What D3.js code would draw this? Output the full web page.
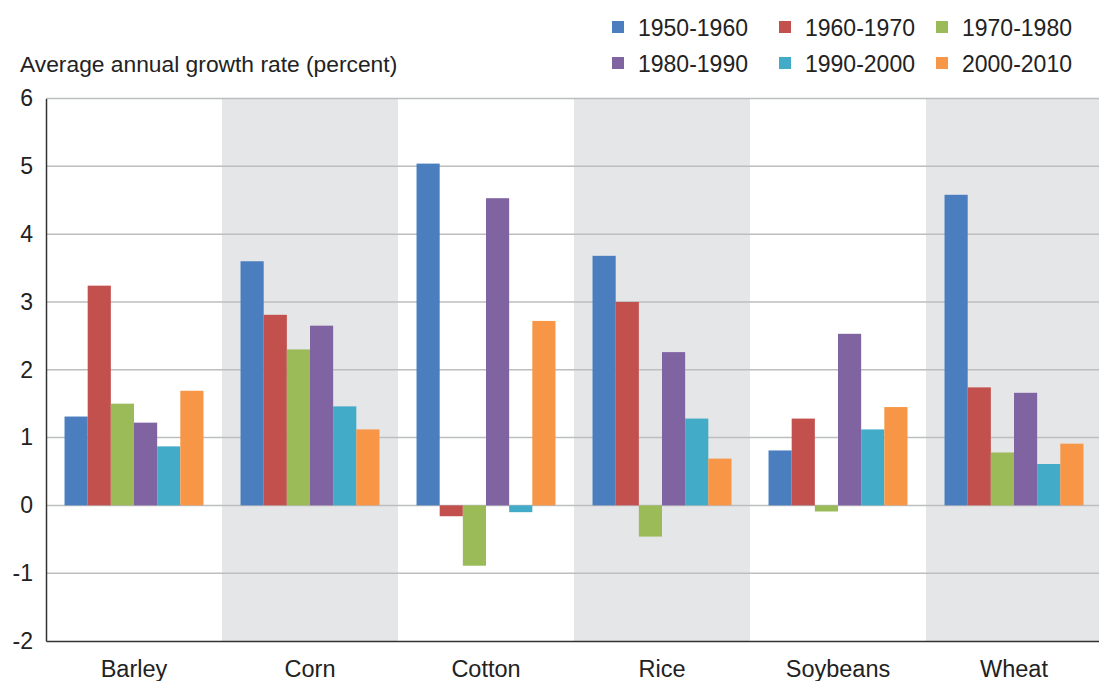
<!DOCTYPE html>
<html><head><meta charset="utf-8">
<script src="https://cdn.jsdelivr.net/npm/d3@7"></script>
<style>body{margin:0;background:#fff}svg{display:block;font-family:"Liberation Sans",Arial,sans-serif}</style>
</head><body><svg id="c" width="1099" height="681"></svg>
<script>
const categories = ["Barley","Corn","Cotton","Rice","Soybeans","Wheat"];
const seriesNames = ["1950-1960","1960-1970","1970-1980","1980-1990","1990-2000","2000-2010"];
const s1950 = [1.31, 3.60, 5.04, 3.68, 0.81, 4.58];
const s1960 = [3.24, 2.81, -0.16, 3.00, 1.28, 1.74];
const s1970 = [1.50, 2.30, -0.89, -0.46, -0.09, 0.78];
const s1980 = [1.22, 2.65, 4.53, 2.26, 2.53, 1.66];
const s1990 = [0.87, 1.46, -0.10, 1.28, 1.12, 0.61];
const s2000 = [1.69, 1.12, 2.72, 0.69, 1.45, 0.91];
const seriesValues = [s1950, s1960, s1970, s1980, s1990, s2000];
const colors = ["#4a7ebf","#c2504d","#9bbb59","#8064a2","#42abc8","#f79646"];
const yTicks = [-2,-1,0,1,2,3,4,5,6];

const svg = d3.select("#c");
const mLeft = 46, mRight = 1102, mTop = 98.5, mBottom = 641;
const x = d3.scaleBand().domain(categories).range([mLeft, mRight]).padding(0);
const xi = d3.scaleBand().domain(seriesNames).range([0, x.bandwidth()]).paddingOuter(0.8).paddingInner(0);
const y = d3.scaleLinear().domain([-2, 6]).range([mBottom, mTop]);

// alternating band shading
svg.append("g").selectAll("rect").data(categories.filter((d,i)=>i%2===1)).join("rect")
  .attr("x", d=>x(d)).attr("y", mTop).attr("width", x.bandwidth()).attr("height", mBottom-mTop)
  .attr("fill", "#e5e6e8");

// gridlines
svg.append("g").selectAll("line").data(yTicks.filter(t=>t>-2)).join("line")
  .attr("x1", mLeft).attr("x2", mRight).attr("y1", d=>y(d)).attr("y2", d=>y(d))
  .attr("stroke", "#bdbec0").attr("stroke-width", 1.5);

// bars
const data = [];
categories.forEach((c,ci)=>seriesNames.forEach((s,si)=>data.push({c, s, si, v: seriesValues[si][ci]})));
svg.append("g").selectAll("rect").data(data).join("rect")
  .attr("x", d=>x(d.c)+xi(d.s)).attr("width", xi.bandwidth())
  .attr("y", d=>y(Math.max(0,d.v))).attr("height", d=>Math.abs(y(d.v)-y(0)))
  .attr("fill", d=>colors[d.si]);

// axes
const yAxis = svg.append("g").attr("transform", `translate(${mLeft},0)`)
  .call(d3.axisLeft(y).tickValues(yTicks).tickSize(0).tickPadding(13).tickFormat(d=>String(d)));
yAxis.select(".domain").attr("stroke", "#333").attr("stroke-width", 1.5);
yAxis.selectAll("text").attr("font-size", 23).attr("fill", "#222").attr("font-family", "Liberation Sans, Arial, sans-serif");

const xAxis = svg.append("g").attr("transform", `translate(0,${mBottom})`)
  .call(d3.axisBottom(x).tickSize(0).tickPadding(19));
xAxis.select(".domain").attr("stroke", "#333").attr("stroke-width", 1.5);
xAxis.selectAll("text").attr("font-size", 23.5).attr("fill", "#222").attr("font-family", "Liberation Sans, Arial, sans-serif");

// y-axis title
svg.append("text").attr("x", 20).attr("y", 72).attr("font-size", 22.8).attr("fill", "#222")
  .text("Average annual growth rate (percent)");

// legend
const legX = [612, 779, 936], legY = [21, 57];
const leg = svg.append("g").selectAll("g").data(seriesNames).join("g")
  .attr("transform", (d,i)=>`translate(${legX[i%3]},${legY[Math.floor(i/3)]})`);
leg.append("rect").attr("width", 12).attr("height", 12).attr("fill", (d,i)=>colors[i]);
leg.append("text").attr("x", 26).attr("y", 15).attr("font-size", 23).attr("fill", "#222").text(d=>d);
</script></body></html>
